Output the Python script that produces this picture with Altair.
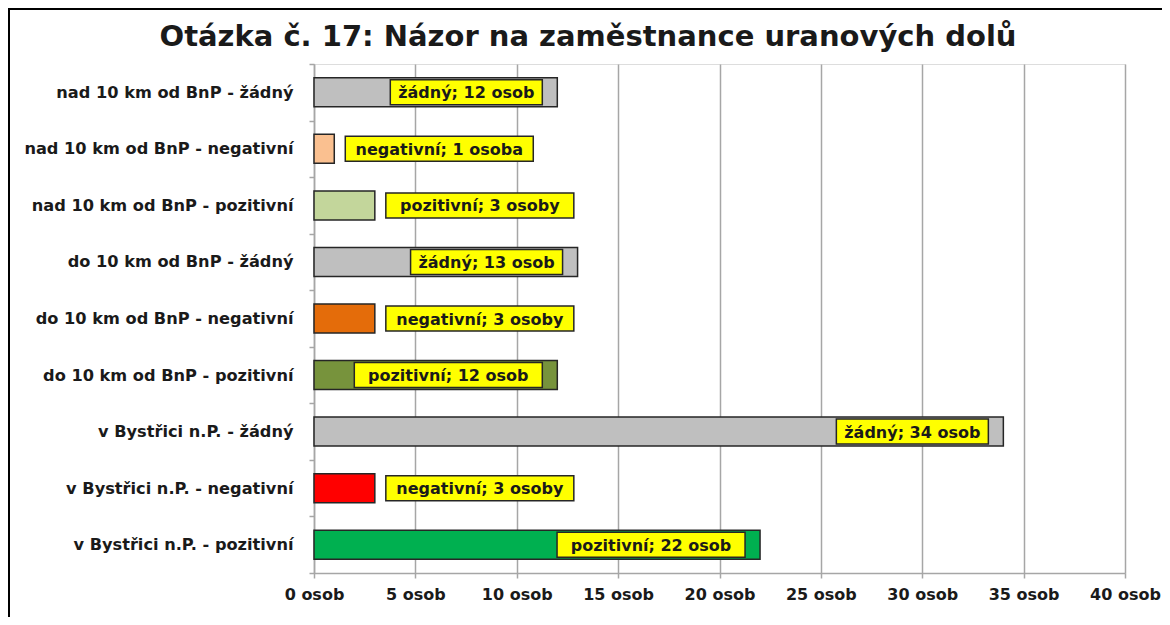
import altair as alt
import pandas as pd

title_text = "Otázka č. 17: Názor na zaměstnance uranových dolů"
categories = [
    "nad 10 km od BnP - žádný",
    "nad 10 km od BnP - negativní",
    "nad 10 km od BnP - pozitivní",
    "do 10 km od BnP - žádný",
    "do 10 km od BnP - negativní",
    "do 10 km od BnP - pozitivní",
    "v Bystřici n.P. - žádný",
    "v Bystřici n.P. - negativní",
    "v Bystřici n.P. - pozitivní",
]
values = [12, 1, 3, 13, 3, 12, 34, 3, 22]
labels = [
    "žádný; 12 osob",
    "negativní; 1 osoba",
    "pozitivní; 3 osoby",
    "žádný; 13 osob",
    "negativní; 3 osoby",
    "pozitivní; 12 osob",
    "žádný; 34 osob",
    "negativní; 3 osoby",
    "pozitivní; 22 osob",
]
bar_colors = ["#BFBFBF", "#FAC090", "#C3D69B", "#BFBFBF", "#E46C0A",
              "#77933C", "#BFBFBF", "#FF0000", "#00B050"]
x_ticks = [0, 5, 10, 15, 20, 25, 30, 35, 40]

df = pd.DataFrame({"kat": categories, "n": values, "lab": labels})

W, H = 811, 509
PX = W / 40.0
FONT = "DejaVu Sans"
TXT = "#1a1a1a"
FS = 16

ysc = alt.Y("kat:N", sort=categories, title=None,
            scale=alt.Scale(paddingInner=0, paddingOuter=0),
            axis=alt.Axis(tickBand="extent", labelFontSize=16.2, labelFontWeight="bold",
                          labelFont=FONT, labelColor=TXT, labelPadding=16, labelLimit=0,
                          domainColor="#A6A6A6", domainWidth=1.5, tickColor="#A6A6A6",
                          tickWidth=1.5, tickSize=5, grid=False))
xsc = alt.Scale(domain=[0, 40], nice=False)

base = alt.Chart(df)

bars = base.mark_bar(size=29, stroke="#262626", strokeWidth=1.5).encode(
    x=alt.X("n:Q", scale=xsc, title=None,
            axis=alt.Axis(values=x_ticks, labelExpr="datum.value + ' osob'",
                          labelFontSize=FS, labelFontWeight="bold", labelFont=FONT,
                          labelColor=TXT, labelPadding=8, tickSize=5, labelOverlap=False,
                          labelFlush=False,
                          tickColor="#A6A6A6", tickWidth=1.5,
                          domainColor="#A6A6A6", domainWidth=1.5,
                          grid=True, gridColor="#A6A6A6", gridWidth=1.5)),
    y=ysc,
    color=alt.Color("kat:N", scale=alt.Scale(domain=categories, range=bar_colors), legend=None),
)

lab = base.transform_calculate(
    w=f"(length(datum.lab) * 9.0 + 26) / {PX}"
).transform_calculate(
    x0=f"datum.n >= 10 ? datum.n - 15 / {PX} - datum.w : datum.n + 11 / {PX}"
).transform_calculate(
    x1="datum.x0 + datum.w", xm="datum.x0 + datum.w / 2"
)

boxes = lab.mark_bar(size=25, fill="#FFFF00", stroke="#262626", strokeWidth=1.5).encode(
    x=alt.X("x0:Q", scale=xsc), x2="x1:Q", y=alt.Y("kat:N", sort=categories))

texts = lab.mark_text(font=FONT, fontSize=FS, fontWeight="bold", color=TXT, dy=1).encode(
    x=alt.X("xm:Q", scale=xsc), y=alt.Y("kat:N", sort=categories), text="lab:N")

title = alt.Chart(pd.DataFrame({"t": [title_text]})).mark_text(
    font=FONT, fontSize=29, fontWeight="bold", color=TXT, align="center",
    baseline="alphabetic", clip=False
).encode(x=alt.value(274), y=alt.value(-18), text="t:N")

frame = alt.Chart(pd.DataFrame({"f": [0]})).mark_rect(
    fill=None, stroke="#000000", strokeWidth=2, clip=False
).encode(x=alt.value(-305), x2=alt.value(W + 200), y=alt.value(-55), y2=alt.value(H + 200))

chart = alt.layer(bars, boxes, texts, title, frame).properties(
    width=W, height=H,
    autosize=alt.AutoSizeParams(type="none"),
    padding={"left": 306, "top": 56, "right": 37, "bottom": 44},
).configure_view(stroke=None).configure(background="white")

chart.save("out.html", embed_options={"renderer": "svg", "actions": False})
